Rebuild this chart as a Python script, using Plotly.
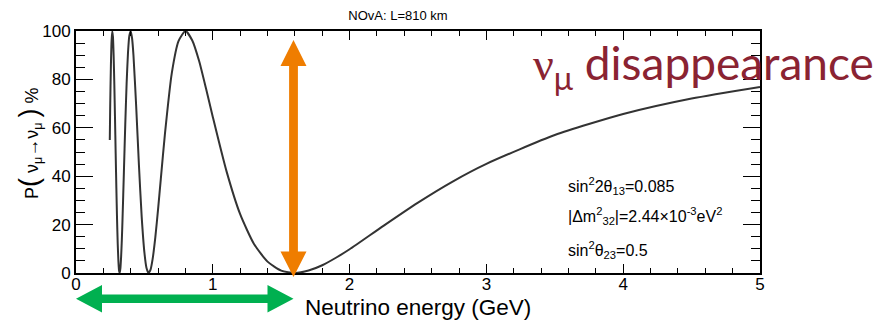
import plotly.graph_objects as go

# ---- data ----
energy_gev = [0.247, 0.25, 0.255, 0.26, 0.265, 0.27, 0.275, 0.28, 0.285, 0.29, 0.295,
              0.30, 0.305, 0.31, 0.315, 0.32, 0.325, 0.33, 0.335, 0.34, 0.35, 0.36,
              0.37, 0.38, 0.39, 0.40, 0.41, 0.42, 0.44, 0.46, 0.48, 0.50, 0.515, 0.53,
              0.545, 0.56, 0.58, 0.60, 0.62, 0.65, 0.70, 0.75, 0.80, 0.85, 0.90, 0.95,
              1.0, 1.1, 1.2, 1.3, 1.4, 1.5, 1.6, 1.7, 1.8, 1.9, 2.0, 2.25, 2.5, 2.75,
              3.0, 3.5, 4.0, 4.5, 5.0]
survival_pct = [55.0, 69.0, 85.2, 95.8, 99.9, 97.7, 90.1, 78.5, 64.4, 49.5, 35.1,
                22.3, 12.1, 4.9, 0.9, 0.1, 2.2, 6.9, 13.7, 22.1, 41.5, 61.2,
                78.3, 90.9, 98.1, 99.9, 96.9, 90.0, 68.8, 44.6, 23.4, 8.5, 2.2, 0.0,
                1.4, 5.7, 14.8, 26.4, 38.9, 57.4, 82.5, 95.9, 100.0, 96.1, 87.6, 76.3,
                64.5, 42.1, 24.3, 12.1, 4.7, 1.0, 0.0, 1.0, 3.2, 6.3, 9.8, 19.6, 29.1, 37.7,
                45.1, 57.0, 65.7, 72.1, 76.9]

x_range = [0, 5]
y_range = [0, 100]
title_text = "NOvA: L=810 km"
x_title = "Neutrino energy (GeV)"
y_title = ("P<span style='font-size:27px'>(</span> ν<sub>μ</sub>→ν<sub>μ</sub> "
           "<span style='font-size:27px'>)</span> %")
param_lines = [
    "sin<sup>2</sup>2θ<sub>13</sub>=0.085",
    "|Δm<sup>2</sup><sub>32</sub>|=2.44×10<sup>-3</sup>eV<sup>2</sup>",
    "sin<sup>2</sup>θ<sub>23</sub>=0.5",
]
big_label = "<span style='font-family:Liberation Serif'>ν</span><sub>μ</sub> disappearance"

# ---- layout geometry (pixels) ----
W, H = 886, 325
ML, MR, MT, MB = 76, 126, 31, 52
PW, PH = W - ML - MR, H - MT - MB


def xp(px):
    return (px - ML) / PW


def yp(py):
    return (H - MB - py) / PH


def poly(points):
    s = "M " + " L ".join(f"{xp(a):.5f},{yp(b):.5f}" for a, b in points) + " Z"
    return s


fig = go.Figure()
fig.add_trace(go.Scatter(x=energy_gev, y=survival_pct, mode="lines",
                         line=dict(color="#333333", width=2, shape="spline", smoothing=0.6),
                         hoverinfo="skip", showlegend=False))

axis_common = dict(showgrid=False, zeroline=False, showline=True, linewidth=2,
                   linecolor="black", mirror="ticks", ticks="inside",
                   tickcolor="black", tickwidth=1.3, automargin=False,
                   tickfont=dict(family="Liberation Sans", size=17, color="black"))

fig.update_xaxes(range=x_range, dtick=1, tick0=0, ticklen=9, ticklabelstandoff=-5,
                 minor=dict(dtick=0.2, tick0=0, ticklen=5, ticks="inside",
                            tickcolor="black", tickwidth=1.3),
                 **axis_common)
fig.update_yaxes(range=y_range, dtick=20, tick0=0, ticklen=17,
                 minor=dict(dtick=5, tick0=0, ticklen=9, ticks="inside",
                            tickcolor="black", tickwidth=1.3),
                 **axis_common)

shapes = []
# orange vertical double arrow
ox = 293.5
shapes.append(dict(type="path", xref="paper", yref="paper", layer="above",
                   fillcolor="#EF7D00", line=dict(width=0),
                   path=poly([(ox, 40), (ox - 13, 66), (ox - 4.4, 66), (ox - 4.4, 251.5),
                              (ox - 13, 251.5), (ox, 277), (ox + 13, 251.5), (ox + 4.4, 251.5),
                              (ox + 4.4, 66), (ox + 13, 66)])))
# green horizontal double arrow
gy = 298.8
shapes.append(dict(type="path", xref="paper", yref="paper", layer="above",
                   fillcolor="#00B050", line=dict(width=0),
                   path=poly([(76, gy), (102, gy - 13.8), (102, gy - 4.3), (267.5, gy - 4.3),
                              (267.5, gy - 13.8), (293.5, gy), (267.5, gy + 13.8),
                              (267.5, gy + 4.3), (102, gy + 4.3), (102, gy + 13.8)])))

annotations = []
# axis titles
annotations.append(dict(text=x_title, xref="paper", yref="paper", x=xp(417.5), y=yp(307),
                        xanchor="center", yanchor="middle", showarrow=False,
                        font=dict(family="Liberation Sans", size=22.5, color="black")))
annotations.append(dict(text=y_title, xref="paper", yref="paper", x=xp(29), y=yp(143),
                        xanchor="center", yanchor="middle", showarrow=False, textangle=-90,
                        font=dict(family="Liberation Sans", size=18, color="black")))
param_y = [186, 216, 250]
for txt, py in zip(param_lines, param_y):
    annotations.append(dict(text=txt, xref="paper", yref="paper", x=xp(566), y=yp(py),
                            xanchor="left", yanchor="middle", showarrow=False,
                            font=dict(family="Liberation Sans", size=16, color="black")))
annotations.append(dict(text=big_label, xref="paper", yref="paper", x=xp(531), y=yp(66),
                        xanchor="left", yanchor="middle", showarrow=False,
                        font=dict(family="Lato", size=46, color="#8A2332")))

fig.update_layout(
    width=W, height=H,
    margin=dict(l=ML, r=MR, t=MT, b=MB),
    paper_bgcolor="white", plot_bgcolor="white",
    title=dict(text=title_text, x=xp(398), xanchor="center", xref="paper",
               y=1 - 15 / H, yanchor="middle", yref="container",
               font=dict(family="Liberation Sans", size=13, color="black")),
    shapes=shapes, annotations=annotations,
)

fig.write_html("out.html")
